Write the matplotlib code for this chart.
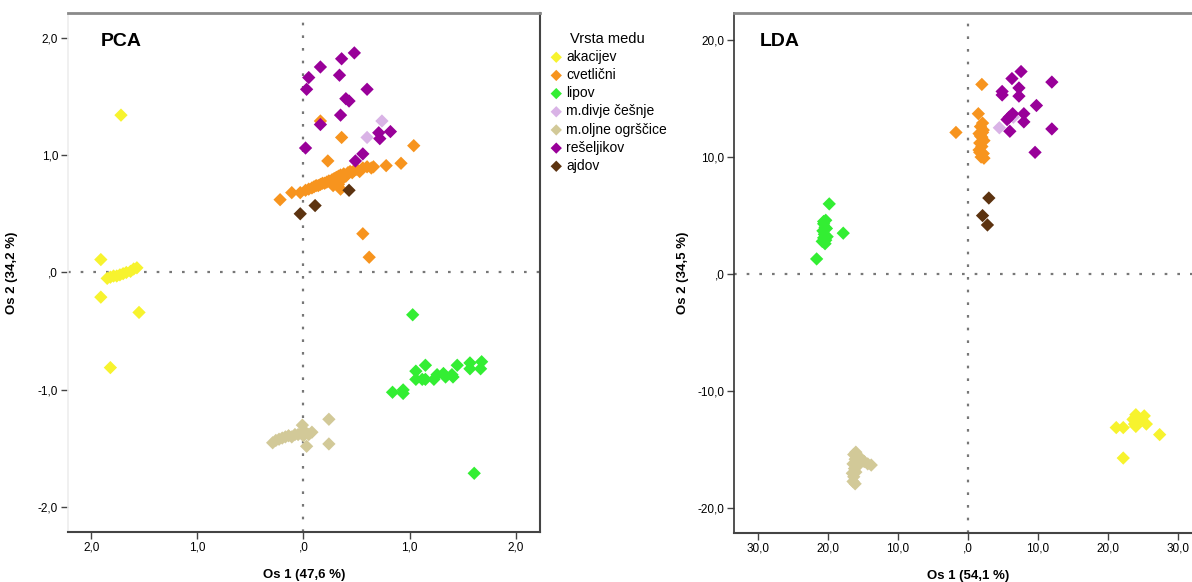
import numpy as np
import matplotlib
matplotlib.use("Agg")
import matplotlib.pyplot as plt

matplotlib.rcParams["font.family"] = ["Liberation Sans", "DejaVu Sans"]
matplotlib.rcParams["xtick.direction"] = "out"
matplotlib.rcParams["ytick.direction"] = "out"
matplotlib.rcParams["xtick.labelsize"] = 8.5
matplotlib.rcParams["ytick.labelsize"] = 8.5
matplotlib.rcParams["axes.labelsize"] = 9.5
matplotlib.rcParams["axes.labelweight"] = "bold"

groups = ["akacijev", "cvetlični", "lipov", "m.divje češnje",
          "m.oljne ogrščice", "rešeljikov", "ajdov"]
colors = ["#f7f32e", "#f7941e", "#33ee33", "#d9b3e6",
          "#d2c998", "#990099", "#5c3310"]

## PCA scores (Os 1, Os 2)
pca_akacijev_x = [-1.72, -1.91, -1.85, -1.82, -1.79, -1.76, -1.73, -1.70, -1.67, -1.63, -1.60, -1.57, -1.91, -1.55, -1.82]
pca_akacijev_y = [1.34, 0.11, -0.05, -0.04, -0.03, -0.03, -0.02, -0.01, 0.00, 0.01, 0.03, 0.04, -0.21, -0.34, -0.81]

pca_cvetlicni_x = [-0.22, -0.11, -0.03, 0.02, 0.05, 0.08, 0.10, 0.12, 0.14, 0.16, 0.18, 0.20, 0.22, 0.24, 0.26,
                   0.27, 0.29, 0.30, 0.31, 0.33, 0.35, 0.35, 0.37, 0.38, 0.40, 0.42, 0.44, 0.46, 0.48, 0.50,
                   0.53, 0.56, 0.60, 0.64, 0.66, 0.78, 0.92, 1.04, 0.16, 0.36, 0.23, 0.56, 0.62, 0.33, 0.28]
pca_cvetlicni_y = [0.62, 0.68, 0.68, 0.70, 0.71, 0.72, 0.73, 0.74, 0.74, 0.75, 0.76, 0.76, 0.77, 0.78, 0.77,
                   0.79, 0.80, 0.78, 0.81, 0.82, 0.71, 0.83, 0.80, 0.84, 0.82, 0.85, 0.86, 0.85, 0.87, 0.88,
                   0.86, 0.89, 0.90, 0.89, 0.90, 0.91, 0.93, 1.08, 1.29, 1.15, 0.95, 0.33, 0.13, 0.75, 0.74]

pca_lipov_x = [1.03, 0.84, 0.94, 0.94, 1.06, 1.06, 1.15, 1.15, 1.23, 1.26, 1.32, 1.34, 1.40, 1.41, 1.45, 1.57, 1.57, 1.68, 1.67, 1.61, 1.12]
pca_lipov_y = [-0.36, -1.02, -1.00, -1.03, -0.84, -0.91, -0.79, -0.91, -0.91, -0.87, -0.86, -0.89, -0.87, -0.89, -0.79, -0.77, -0.82, -0.76, -0.82, -1.71, -0.91]

pca_cesnje_x = [0.74, 0.60]
pca_cesnje_y = [1.29, 1.15]

pca_ogrscice_x = [-0.29, -0.26, -0.23, -0.20, -0.17, -0.14, -0.11, -0.08, -0.05, -0.02, 0.00, 0.02, 0.05, 0.08, -0.01, 0.03, 0.24, 0.24]
pca_ogrscice_y = [-1.45, -1.43, -1.42, -1.41, -1.40, -1.39, -1.40, -1.38, -1.38, -1.37, -1.39, -1.36, -1.38, -1.36, -1.30, -1.48, -1.25, -1.46]

pca_reseljikov_x = [0.48, 0.36, 0.16, 0.34, 0.05, 0.03, 0.60, 0.40, 0.43, 0.35, 0.16, 0.71, 0.82, 0.72, 0.02, 0.56, 0.49]
pca_reseljikov_y = [1.87, 1.82, 1.75, 1.68, 1.66, 1.56, 1.56, 1.48, 1.46, 1.34, 1.26, 1.19, 1.20, 1.14, 1.06, 1.01, 0.95]

pca_ajdov_x = [0.43, 0.11, -0.03]
pca_ajdov_y = [0.70, 0.57, 0.50]

## LDA scores (Os 1, Os 2)
lda_akacijev_x = [21.2, 22.2, 22.2, 24.0, 23.8, 24.0, 25.2, 25.5, 27.4, 23.6, 24.3]
lda_akacijev_y = [-13.1, -13.1, -15.7, -12.0, -12.8, -13.0, -12.1, -12.8, -13.7, -12.4, -12.5]

lda_cvetlicni_x = [2.0, 1.5, -1.7, 2.1, 1.8, 2.2, 1.6, 2.0, 2.3, 1.7, 2.0, 1.6, 2.2, 1.9, 2.3, 1.8, 2.1, 1.7]
lda_cvetlicni_y = [16.2, 13.7, 12.1, 12.9, 12.6, 12.3, 12.0, 11.7, 11.4, 11.2, 10.9, 10.6, 10.3, 10.0, 9.9, 11.8, 12.1, 10.4]

lda_lipov_x = [-19.8, -17.8, -21.6, -20.3, -20.6, -20.4, -20.7, -20.5, -20.6, -20.3, -20.8, -20.4, -20.1, -20.2, -20.6]
lda_lipov_y = [6.0, 3.5, 1.3, 4.6, 4.3, 4.0, 3.7, 3.4, 3.1, 2.9, 2.8, 2.6, 3.2, 3.9, 4.5]

lda_cesnje_x = [4.5, 6.5]
lda_cesnje_y = [12.5, 13.4]

lda_ogrscice_x = [-16.3, -16.1, -16.4, -16.2, -16.5, -16.3, -16.4, -16.1, -16.0, -15.8, -15.3, -14.8, -14.3, -13.8, -15.5, -16.0]
lda_ogrscice_y = [-15.4, -15.8, -16.2, -16.6, -17.0, -17.3, -17.7, -17.9, -16.9, -16.4, -15.8, -16.0, -16.2, -16.3, -15.6, -15.2]

lda_reseljikov_x = [7.6, 6.3, 12.0, 4.9, 4.9, 7.3, 7.3, 9.8, 6.4, 5.9, 5.6, 8.0, 8.0, 6.0, 12.0, 9.6]
lda_reseljikov_y = [17.3, 16.7, 16.4, 15.6, 15.3, 15.9, 15.2, 14.4, 13.7, 13.4, 13.2, 13.7, 13.0, 12.2, 12.4, 10.4]

lda_ajdov_x = [3.0, 2.1, 2.8]
lda_ajdov_y = [6.5, 5.0, 4.2]

pca_data = [(pca_akacijev_x, pca_akacijev_y), (pca_cvetlicni_x, pca_cvetlicni_y),
            (pca_lipov_x, pca_lipov_y), (pca_cesnje_x, pca_cesnje_y),
            (pca_ogrscice_x, pca_ogrscice_y), (pca_reseljikov_x, pca_reseljikov_y),
            (pca_ajdov_x, pca_ajdov_y)]
lda_data = [(lda_akacijev_x, lda_akacijev_y), (lda_cvetlicni_x, lda_cvetlicni_y),
            (lda_lipov_x, lda_lipov_y), (lda_cesnje_x, lda_cesnje_y),
            (lda_ogrscice_x, lda_ogrscice_y), (lda_reseljikov_x, lda_reseljikov_y),
            (lda_ajdov_x, lda_ajdov_y)]

pca_xticks = [-2, -1, 0, 1, 2]
pca_xlabels = ["2,0", "1,0", ",0", "1,0", "2,0"]
pca_yticks = [-2, -1, 0, 1, 2]
pca_ylabels = ["-2,0", "-1,0", ",0", "1,0", "2,0"]
lda_xticks = [-30, -20, -10, 0, 10, 20, 30]
lda_xlabels = ["30,0", "20,0", "10,0", ",0", "10,0", "20,0", "30,0"]
lda_yticks = [-20, -10, 0, 10, 20]
lda_ylabels = ["-20,0", "-10,0", ",0", "10,0", "20,0"]

fig = plt.figure(figsize=(11.92, 5.82), dpi=100)
ax1 = fig.add_axes([0.0570, 0.0859, 0.3960, 0.8918])
ax2 = fig.add_axes([0.6158, 0.0842, 0.3923, 0.8935])

dot = (0, (1.2, 4.5))


def style_axes(ax, left_col):
    ax.axhline(0, color="#777777", lw=1.6, ls=dot, zorder=1)
    ax.axvline(0, color="#777777", lw=1.6, ls=dot, zorder=1)
    ax.spines["top"].set_color("#8a8a8a")
    ax.spines["top"].set_linewidth(2.0)
    ax.spines["bottom"].set_color("#444444")
    ax.spines["bottom"].set_linewidth(1.5)
    ax.spines["right"].set_color("#444444")
    ax.spines["right"].set_linewidth(1.5)
    ax.spines["left"].set_color(left_col)
    ax.spines["left"].set_linewidth(1.2)
    ax.tick_params(length=5, width=1.0, color="#444444", pad=2)


msize = 46
for (x, y), c, g in zip(pca_data, colors, groups):
    ax1.scatter(x, y, marker="D", s=msize, color=c, edgecolors="none", label=g, zorder=3)
ax1.set_xlim(-2.22, 2.23)
ax1.set_ylim(-2.21, 2.21)
ax1.set_xticks(pca_xticks, pca_xlabels)
ax1.set_yticks(pca_yticks, pca_ylabels)
style_axes(ax1, "#eeeeee")
ax1.set_xlabel("Os 1 (47,6 %)", labelpad=11)
ax1.set_ylabel("Os 2 (34,2 %)", labelpad=14)
ax1.text(0.07, 0.945, "PCA", transform=ax1.transAxes, fontsize=14,
         fontweight="bold", va="center", ha="left")

for (x, y), c, g in zip(lda_data, colors, groups):
    ax2.scatter(x, y, marker="D", s=msize, color=c, edgecolors="none", zorder=3)
ax2.set_xlim(-33.4, 33.4)
ax2.set_ylim(-22.1, 22.3)
ax2.set_xticks(lda_xticks, lda_xlabels)
ax2.set_yticks(lda_yticks, lda_ylabels)
style_axes(ax2, "#333333")
ax2.set_xlabel("Os 1 (54,1 %)", labelpad=11)
ax2.set_ylabel("Os 2 (34,5 %)", labelpad=6)
ax2.text(0.055, 0.945, "LDA", transform=ax2.transAxes, fontsize=14,
         fontweight="bold", va="center", ha="left")

handles, labels = ax1.get_legend_handles_labels()
fig.legend(handles, labels, title="Vrsta medu", loc="upper left",
           bbox_to_anchor=(0.455, 0.955), frameon=False, fontsize=10,
           title_fontsize=10.5, handletextpad=0.1, labelspacing=0.3,
           handlelength=1.2, borderaxespad=0, markerscale=0.85)

plt.savefig("out.png", dpi=100)
